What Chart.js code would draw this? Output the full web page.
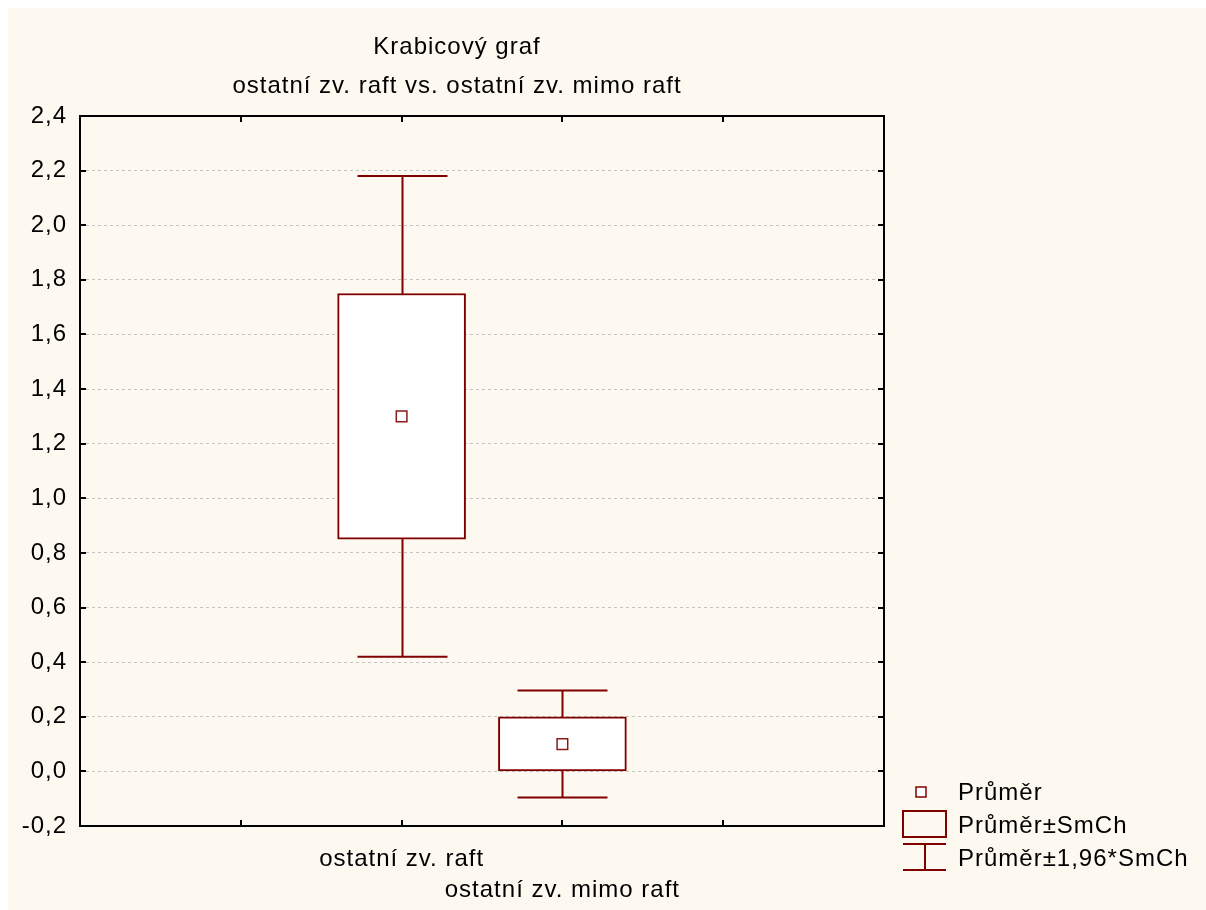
<!DOCTYPE html>
<html>
<head>
<meta charset="utf-8">
<script src="https://cdn.jsdelivr.net/npm/chart.js@4/dist/chart.umd.min.js"></script>
<style>
  html, body { margin: 0; padding: 0; background: #fff; }
  #wrap { position: absolute; left: 8px; top: 8px; width: 1198px; height: 902px; background: #fdf9f0; }
  canvas { display: block; }
</style>
</head>
<body>
<div id="wrap"><canvas id="boxChart" width="1198" height="902"></canvas></div>
<script>
  // groups and their place on the x axis (axis runs 0..5)
  const categories = ["ostatní zv. raft", "ostatní zv. mimo raft"];
  const positions = [2, 3];

  // Průměr, Průměr±SmCh, Průměr±1,96*SmCh
  const means = [1.30, 0.10];
  const boxLow = [0.85, 0.00];
  const boxHigh = [1.75, 0.20];
  const whiskerLow = [0.42, -0.096];
  const whiskerHigh = [2.18, 0.296];

  const titleLines = ["Krabicový graf", "ostatní zv. raft vs. ostatní zv. mimo raft"];
  const legendLabels = ["Průměr", "Průměr±SmCh", "Průměr±1,96*SmCh"];

  const maroon = "#800000";
  const fontFamily = 'Arial, "Liberation Sans", sans-serif';
  const fontSize = 24;
  const letterSpacing = "1px";

  const fmt = (v) => {
    if (Math.abs(v) < 1e-9) v = 0;
    return v.toFixed(1).replace(".", ",");
  };

  const boxPlotExtras = {
    id: "boxPlotExtras",
    beforeUpdate(chart) {
      chart.ctx.letterSpacing = letterSpacing;
    },
    beforeDatasetsDraw(chart) {
      const { ctx, scales: { x, y } } = chart;
      const cap = 45;
      ctx.save();
      ctx.strokeStyle = maroon;
      ctx.lineWidth = 2;
      positions.forEach((p, i) => {
        const px = Math.round(x.getPixelForValue(p)) + 0.5;
        const yLo = y.getPixelForValue(whiskerLow[i]);
        const yHi = y.getPixelForValue(whiskerHigh[i]);
        ctx.beginPath();
        ctx.moveTo(px, yLo);
        ctx.lineTo(px, yHi);
        ctx.moveTo(px - cap, yLo);
        ctx.lineTo(px + cap, yLo);
        ctx.moveTo(px - cap, yHi);
        ctx.lineTo(px + cap, yHi);
        ctx.stroke();
      });
      ctx.restore();
    },
    afterDraw(chart) {
      const { ctx, chartArea: a, scales: { x, y } } = chart;
      ctx.save();
      ctx.letterSpacing = letterSpacing;

      // frame and inward ticks
      ctx.strokeStyle = "#000";
      ctx.lineWidth = 2;
      ctx.strokeRect(a.left, a.top, a.right - a.left, a.bottom - a.top);
      ctx.beginPath();
      y.ticks.forEach((t) => {
        const py = Math.round(y.getPixelForValue(t.value));
        ctx.moveTo(a.left, py); ctx.lineTo(a.left + 6, py);
        ctx.moveTo(a.right, py); ctx.lineTo(a.right - 6, py);
      });
      x.ticks.forEach((t) => {
        if (t.value <= x.min || t.value >= x.max) return;
        const px = Math.round(x.getPixelForValue(t.value));
        ctx.moveTo(px, a.bottom); ctx.lineTo(px, a.bottom - 6);
        ctx.moveTo(px, a.top); ctx.lineTo(px, a.top + 6);
      });
      ctx.stroke();

      // title
      ctx.fillStyle = "#000";
      ctx.font = fontSize + "px " + fontFamily;
      ctx.textAlign = "center";
      ctx.textBaseline = "middle";
      ctx.fillText(titleLines[0], 449, 39);
      ctx.fillText(titleLines[1], 449, 78);

      // legend
      const lx = 895, lw = 43, tx = 950;
      ctx.strokeStyle = maroon;
      ctx.lineWidth = 1.5;
      ctx.fillStyle = "#fff";
      ctx.fillRect(908, 779, 10, 10);
      ctx.strokeRect(908, 779, 10, 10);
      ctx.lineWidth = 2;
      ctx.strokeRect(lx, 803, lw, 26);
      ctx.beginPath();
      ctx.moveTo(lx, 836); ctx.lineTo(lx + lw, 836);
      ctx.moveTo(lx, 862); ctx.lineTo(lx + lw, 862);
      ctx.moveTo(lx + 22, 836); ctx.lineTo(lx + 22, 862);
      ctx.stroke();
      ctx.fillStyle = "#000";
      ctx.textAlign = "left";
      ctx.fillText(legendLabels[0], tx, 785);
      ctx.fillText(legendLabels[1], tx, 818);
      ctx.fillText(legendLabels[2], tx, 851);
      ctx.restore();
    }
  };

  const ctx = document.getElementById("boxChart").getContext("2d");
  const tickFont = { family: fontFamily, size: fontSize, lineHeight: 1.3 };

  new Chart(ctx, {
    type: "bar",
    data: {
      datasets: [
        {
          type: "bar",
          label: legendLabels[1],
          data: positions.map((p, i) => ({ x: p, y: [boxLow[i], boxHigh[i]] })),
          backgroundColor: "#fff",
          borderColor: maroon,
          borderWidth: 2,
          borderSkipped: false,
          barThickness: 128,
          order: 2
        },
        {
          type: "scatter",
          label: legendLabels[0],
          data: positions.map((p, i) => ({ x: p, y: means[i] })),
          pointStyle: "rect",
          pointRadius: 7.5,
          backgroundColor: "#fff",
          borderColor: "#8b1a1a",
          borderWidth: 1.5,
          order: 1
        }
      ]
    },
    options: {
      responsive: false,
      animation: false,
      layout: { padding: { top: 108, right: 322, left: 0, bottom: 0 } },
      plugins: {
        legend: { display: false },
        title: { display: false },
        tooltip: { enabled: false }
      },
      scales: {
        x: {
          type: "linear",
          min: 0,
          max: 5,
          offset: false,
          grid: { display: false, drawTicks: false },
          border: { display: false },
          ticks: {
            stepSize: 1,
            autoSkip: false,
            maxRotation: 0,
            padding: 18,
            color: "#000",
            font: tickFont,
            callback: (v) => {
              const i = positions.indexOf(v);
              if (i < 0) return "";
              return i % 2 ? ["", categories[i]] : categories[i];
            }
          },
          afterFit: (s) => { s.height = 84; }
        },
        y: {
          min: -0.2,
          max: 2.4,
          grid: { color: "#c4c4c4", lineWidth: 1, drawTicks: false },
          border: { display: false, dash: [3, 3] },
          ticks: {
            stepSize: 0.2,
            padding: 13,
            color: "#000",
            font: tickFont,
            callback: (v) => fmt(v)
          },
          afterFit: (s) => { s.width = 72; }
        }
      }
    },
    plugins: [boxPlotExtras]
  });
</script>
</body>
</html>
